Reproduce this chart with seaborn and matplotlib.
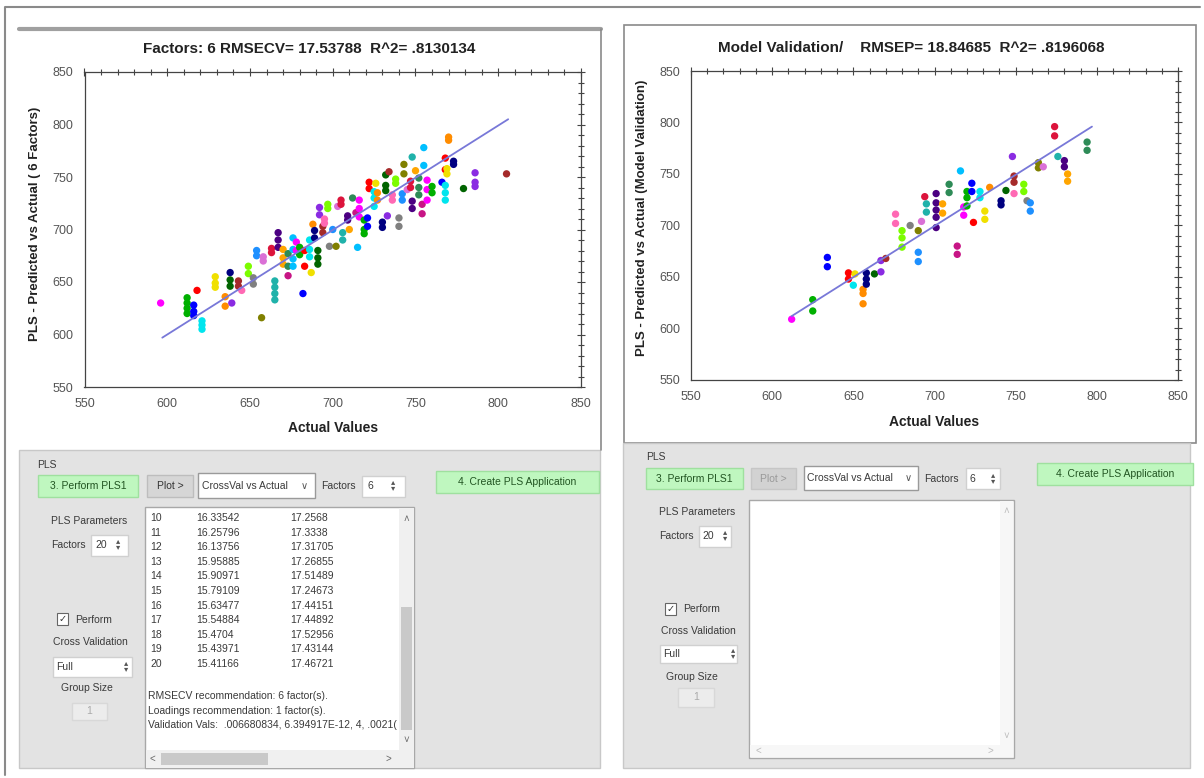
import matplotlib
matplotlib.use("Agg")
import matplotlib.pyplot as plt
import seaborn as sns
import pandas as pd
from matplotlib.patches import Rectangle
from matplotlib.ticker import MultipleLocator

# cross validation plot: actual value of each sample and its predicted replicates
cv_actual = [596, 612, 616, 618, 621, 629, 635, 638, 638, 639, 643, 645, 649, 652,
             654, 657, 658, 663, 665, 667, 670, 673, 673, 676, 678, 680, 682, 683,
             686, 687, 688, 689, 691, 692, 694, 695, 697, 698, 700, 702, 703, 705,
             706, 709, 710, 712, 714, 715, 716, 719, 721, 722, 725, 726, 727, 730,
             732, 733, 734, 736, 738, 740, 742, 743, 745, 747, 748, 748, 750, 752,
             754, 755, 757, 760, 766, 768, 768, 769, 770, 773, 779, 786, 805]
cv_pred = [[630], [635, 630, 625, 620], [628, 622, 618], [642], [613, 609, 605],
           [655, 649, 645], [636, 627], [659], [652, 646], [630], [651, 646], [642],
           [665, 658], [654, 648], [680, 675], [616], [674, 670], [682, 678],
           [651, 645, 639, 633], [697, 690, 683], [681, 673, 667], [677, 665], [656],
           [692, 681, 672, 665], [688, 680], [683, 676], [639], [680, 665],
           [690, 681, 674], [659], [705], [699, 692], [680, 673, 667], [721, 714],
           [703, 697], [710, 706], [724, 720], [684], [700], [684], [722], [728, 724],
           [697, 690], [713, 709], [700], [730], [716], [683], [728, 720, 712],
           [709, 700, 696], [711, 703], [745, 739], [736, 730, 722], [744], [735, 728],
           [707, 702], [752, 742, 737], [713], [755], [733, 728], [748, 744], [711, 703],
           [734, 728], [762, 753], [738], [746, 740], [769], [727, 720], [756],
           [749, 740, 733], [724, 715], [778, 761], [747, 738, 728], [741, 735], [745],
           [768, 757], [742, 735, 728], [758, 753], [788, 785], [765, 762], [739],
           [754, 745, 741], [753]]
cv_line_x = [597, 806]
cv_line_y = [597, 805]

# model validation plot
val_actual = [612, 625, 634, 647, 650, 651, 656, 658, 663, 667, 670, 676, 680, 685,
              690, 690, 692, 694, 695, 701, 705, 709, 714, 716, 718, 720, 723, 724,
              728, 731, 734, 741, 744, 748, 749, 749, 755, 757, 759, 764, 767, 774,
              776, 780, 782, 794]
val_pred = [[609], [628, 617], [669, 660], [654, 648], [642], [653], [638, 634, 624],
            [654, 648, 643], [653], [666, 655], [668], [711, 702], [695, 688, 679],
            [700], [674, 665], [695], [704], [728], [721, 713],
            [731, 722, 715, 708, 698], [721, 712], [740, 732], [680, 672], [753],
            [718, 710], [733, 727, 719], [741, 733], [703], [733, 727], [714, 706],
            [737], [724, 720], [734], [767], [748, 742], [731], [740, 733], [724],
            [722, 714], [761, 756], [757], [796, 787], [767], [763, 757], [750, 743],
            [781, 773]]
val_line_x = [612, 797]
val_line_y = [612, 796]

# text shown in the results list box
tbl_factor = ["10", "11", "12", "13", "14", "15", "16", "17", "18", "19", "20"]
tbl_rmsec = ["16.33542", "16.25796", "16.13756", "15.95885", "15.90971", "15.79109",
             "15.63477", "15.54884", "15.4704", "15.43971", "15.41166"]
tbl_rmsecv = ["17.2568", "17.3338", "17.31705", "17.26855", "17.51489", "17.24673",
              "17.44151", "17.44892", "17.52956", "17.43144", "17.46721"]
notes = ["RMSECV recommendation: 6 factor(s).",
         "Loadings recommendation: 1 factor(s).",
         "Validation Vals:  .006680834, 6.394917E-12, 4, .0021("]

colors = ["#ff00ff", "#00b000", "#0000ff", "#ff0000", "#00e5ee", "#f0e000", "#ff8c00",
          "#000080", "#006400", "#8a2be2", "#a52a2a", "#ff69b4", "#7cfc00", "#808080",
          "#1e90ff", "#808000", "#da70d6", "#dc143c", "#20b2aa", "#4b0082", "#ffa500",
          "#2e8b57", "#c71585", "#00bfff"]


def expand(actual, pred):
    rows = []
    for i, (a, ps) in enumerate(zip(actual, pred)):
        for p in ps:
            rows.append((a, p, i))
    return pd.DataFrame(rows, columns=["actual", "pred", "sample"])


sns.set_style("white")
plt.rcParams["font.family"] = ["Liberation Sans", "DejaVu Sans"]
GUI_FONT = ["Liberation Sans", "DejaVu Sans"]

W, H = 1204, 778
fig = plt.figure(figsize=(W / 100, H / 100), dpi=100)
fig.patch.set_facecolor("white")
bg = fig.add_axes([0, 0, 1, 1])
bg.set_xlim(0, W)
bg.set_ylim(H, 0)
bg.axis("off")
bg.set_zorder(0)


def box(x0, y0, x1, y1, fc, ec="none", lw=1.0, z=1):
    bg.add_patch(Rectangle((x0, y0), x1 - x0, y1 - y0, facecolor=fc,
                           edgecolor=ec, lw=lw, zorder=z))


def label(x, y, s, size=7.5, ha="left", color="#3a3a3a", **kw):
    bg.text(x, y, s, fontsize=size, ha=ha, va="center", color=color,
            family=GUI_FONT, zorder=5, **kw)


# outer frame and plot panels
bg.plot([5, 5, 1200], [775, 7, 7], color="#8a8a8a", lw=1.5)
bg.plot([19, 601], [29, 29], color="#a0a0a0", lw=3)
bg.plot([601, 601], [29, 450], color="#8a8a8a", lw=1.2)
box(624, 25, 1196, 443, "white", ec="#8a8a8a", lw=1.2)


def scatter_panel(rect, df, lx, ly, title, ylabel, title_xy, xlab_y, ylab_x, ylab_yc):
    x0, y0, x1, y1 = rect
    ax = fig.add_axes([x0 / W, 1 - y1 / H, (x1 - x0) / W, (y1 - y0) / H])
    ax.set_zorder(2)
    n = df["sample"].nunique()
    pal = [colors[i % len(colors)] for i in range(n)]
    sns.scatterplot(data=df, x="actual", y="pred", hue="sample", palette=pal,
                    s=28, edgecolor="none", legend=False, ax=ax)
    sns.lineplot(x=lx, y=ly, color="#7878d8", lw=1.3, ax=ax)
    ax.set_xlim(550, 850)
    ax.set_ylim(550, 850)
    for axis in (ax.xaxis, ax.yaxis):
        axis.set_major_locator(MultipleLocator(50))
        axis.set_minor_locator(MultipleLocator(10))
    ax.tick_params(which="both", direction="inout", top=True, right=True,
                   color="#444444", labelsize=9, labelcolor="#555555", width=0.8)
    ax.tick_params(which="major", length=6, pad=5)
    ax.tick_params(which="minor", length=4)
    for sp in ax.spines.values():
        sp.set_color("#444444")
        sp.set_linewidth(0.9)
    ax.set_xlabel("Actual Values", fontsize=10, fontweight="bold", color="#222222")
    ax.set_ylabel(ylabel, fontsize=9.5, fontweight="bold", color="#222222")
    ax.xaxis.label.set_va("center")
    ax.yaxis.label.set_va("center")
    ax.xaxis.set_label_coords(0.5, (y1 - xlab_y) / (y1 - y0))
    ax.yaxis.set_label_coords((ylab_x - x0) / (x1 - x0), (y1 - ylab_yc) / (y1 - y0))
    bg.text(title_xy[0], title_xy[1], title, fontsize=11, fontweight="bold",
            ha="center", va="center", color="#222222")
    return ax


scatter_panel((84.5, 72, 581, 387), expand(cv_actual, cv_pred), cv_line_x, cv_line_y,
              "Factors: 6 RMSECV= 17.53788  R^2= .8130134",
              "PLS - Predicted vs Actual ( 6 Factors)", (309, 49), 428, 35, 224)
scatter_panel((691, 71, 1178, 380), expand(val_actual, val_pred), val_line_x, val_line_y,
              "Model Validation/    RMSEP= 18.84685  R^2= .8196068",
              "PLS - Predicted vs Actual (Model Validation)", (911, 48), 422, 642, 218)

GRAY = "#e3e3e3"
GREEN = "#bff7bf"

# ---- left control panel
box(19, 450, 600, 768, GRAY, ec="#c8c8c8")
label(37, 465, "PLS")
box(38, 475, 138, 497, GREEN, ec="#9fe09f")
label(88, 486, "3. Perform PLS1", ha="center", color="#225522")
box(147, 475, 193, 497, "#d6d6d6", ec="#bdbdbd")
label(157, 486, "Plot >", color="#333333")
box(198, 473, 315, 498, "white", ec="#9a9a9a")
label(202, 486, "CrossVal vs Actual")
label(304, 486, "\u2228", size=7, ha="center", color="#555555")
label(321, 486, "Factors")
box(362, 476, 405, 497, "white", ec="#d0d0d0")
label(368, 486, "6")
label(393, 486, "\u25b4\n\u25be", size=6, ha="center", color="#555555", linespacing=0.8)
box(436, 471, 599, 493, GREEN, ec="#9fe09f")
label(517, 482, "4. Create PLS Application", ha="center", color="#225522")

label(51, 521, "PLS Parameters")
label(51, 545, "Factors")
box(91, 535, 128, 556, "white", ec="#d0d0d0")
label(95, 545, "20")
label(118, 545, "\u25b4\n\u25be", size=6, ha="center", color="#555555", linespacing=0.8)
box(57, 613, 68, 625, "white", ec="#666666", lw=0.8)
label(62.5, 619, "\u2713", size=7, ha="center", color="#333333")
label(75, 620, "Perform")
label(53, 642, "Cross Validation")
box(53, 657, 132, 677, "white", ec="#d0d0d0")
label(56, 667, "Full")
label(126, 667, "\u25b4\n\u25be", size=6, ha="center", color="#555555", linespacing=0.8)
label(61, 688, "Group Size")
box(72, 703, 107, 720, "#ececec", ec="#d8d8d8")
label(89.5, 711, "1", ha="center", color="#aaaaaa")

box(145, 507, 414, 768, "white", ec="#a8a8a8")
box(399, 508, 414, 768, "#f0f0f0")
box(401, 607, 412, 730, "#c9c9c9")
box(146, 750, 399, 768, "#f0f0f0")
box(161, 753, 268, 765, "#c9c9c9")
label(406, 519, "\u02c4", size=7, ha="center", color="#666666")
label(406, 740, "\u02c5", size=7, ha="center", color="#666666")
label(152, 759, "<", size=7, ha="center", color="#666666")
label(388, 759, ">", size=7, ha="center", color="#666666")
for i, (f, a, b) in enumerate(zip(tbl_factor, tbl_rmsec, tbl_rmsecv)):
    yy = 518 + 14.6 * i
    label(150, yy, f)
    label(196, yy, a)
    label(290, yy, b)
for i, s in enumerate(notes):
    label(148, 696 + 14.5 * i, s)

# ---- right control panel
box(623, 443, 1190, 768, GRAY, ec="#c8c8c8")
label(646, 457, "PLS")
box(646, 468, 743, 489, GREEN, ec="#9fe09f")
label(694.5, 478.5, "3. Perform PLS1", ha="center", color="#225522")
box(751, 468, 796, 489, "#d2d2d2", ec="#c6c6c6")
label(760, 478.5, "Plot >", color="#9a9a9a")
box(804, 466, 918, 490, "white", ec="#9a9a9a")
label(807, 478, "CrossVal vs Actual")
label(908, 478, "\u2228", size=7, ha="center", color="#555555")
label(924, 479, "Factors")
box(966, 468, 1000, 489, "white", ec="#d0d0d0")
label(970, 479, "6")
label(993, 479, "\u25b4\n\u25be", size=6, ha="center", color="#555555", linespacing=0.8)
box(1037, 463, 1193, 485, GREEN, ec="#9fe09f")
label(1115, 474, "4. Create PLS Application", ha="center", color="#225522")

label(659, 512, "PLS Parameters")
label(659, 536, "Factors")
box(699, 526, 731, 547, "white", ec="#d0d0d0")
label(702, 536, "20")
label(725, 536, "\u25b4\n\u25be", size=6, ha="center", color="#555555", linespacing=0.8)
box(665, 603, 676, 615, "white", ec="#666666", lw=0.8)
label(670.5, 609, "\u2713", size=7, ha="center", color="#333333")
label(683, 609, "Perform")
label(661, 631, "Cross Validation")
box(660, 645, 737, 663, "white", ec="#d0d0d0")
label(663, 654, "Full")
label(733, 654, "\u25b4\n\u25be", size=6, ha="center", color="#555555", linespacing=0.8)
label(666, 677, "Group Size")
box(678, 688, 714, 707, "#ececec", ec="#d8d8d8")
label(696, 697.5, "1", ha="center", color="#aaaaaa")

box(749, 500, 1014, 758, "white", ec="#a8a8a8")
box(1000, 501, 1013, 745, "#f7f7f7")
box(750, 745, 1013, 757, "#f7f7f7")
label(1006, 511, "\u02c4", size=7, ha="center", color="#bbbbbb")
label(1006, 736, "\u02c5", size=7, ha="center", color="#bbbbbb")
label(758, 751, "<", size=7, ha="center", color="#bbbbbb")
label(990, 751, ">", size=7, ha="center", color="#bbbbbb")

fig.savefig("out.png", dpi=100)
